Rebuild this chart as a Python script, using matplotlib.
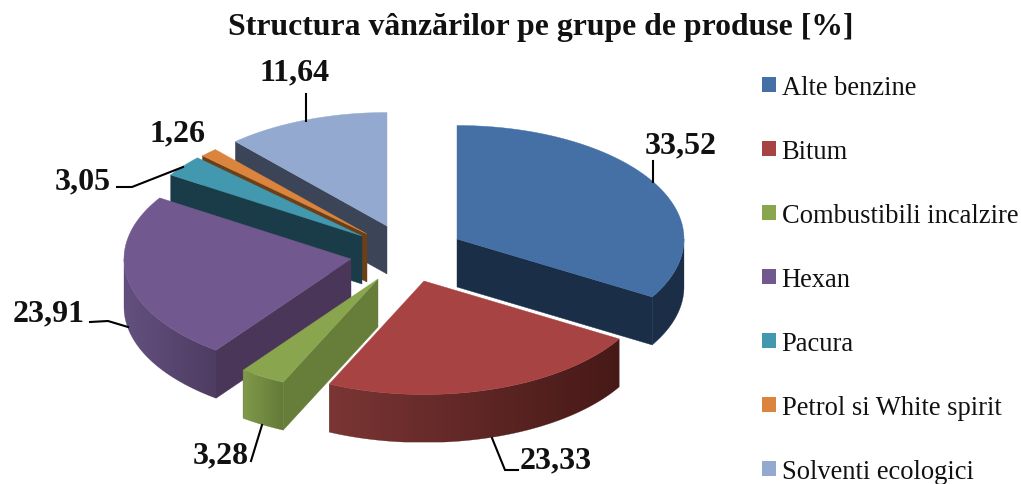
"""Structura vânzărilor: pie 3D explodat desenat cu poligoane."""

import numpy as np
import matplotlib
matplotlib.use("Agg")
import matplotlib.pyplot as plt
from matplotlib.colors import LinearSegmentedColormap
from matplotlib.patches import Patch, Polygon

categories = ["Alte benzine", "Bitum", "Combustibili incalzire", "Hexan",
              "Pacura", "Petrol si White spirit", "Solventi ecologici"]
values = [33.52, 23.33, 3.28, 23.91, 3.05, 1.26, 11.64]
title = "Structura vânzărilor pe grupe de produse [%]"

# stil: culori si pozitii in pixeli
top_colors = ["#4470A6", "#A74443", "#89A54E", "#71588F", "#4198AF", "#DB843D", "#93A9CF"]
side_colors = ["#1B2E47", "#4A1B19", "#677D3A", "#4A3659", "#1A3C48", "#6B3F17", "#3C4558"]
rim_left = ["#1B2E47", "#7A3534", "#80994A", "#64507F", "#1A3C48", "#6B3F17", "#3C4558"]
rim_right = ["#1B2E47", "#461917", "#637A38", "#4E3C62", "#1A3C48", "#6B3F17", "#3C4558"]
apex = [(457, 240), (424, 282), (378, 280), (351, 260), (362, 237), (367, 235), (387, 227)]
draw_order = [6, 5, 4, 3, 2, 1, 0]
RX, RY, DEPTH = 227, 113.5, 48

label_pos = [(681, 146), (556, 461), (221, 456), (49, 314), (83, 182), (177, 134), (295, 73)]
leaders = [
    [(653, 162), (653, 183)],
    [(518, 471), (505, 471), (492, 439)],
    [(251, 462), (262, 426)],
    [(90, 323), (108, 322), (128, 328)],
    [(117, 188), (132, 188), (183, 168)],
    None,
    [(306, 95), (306, 122)],
]

plt.rcParams["font.family"] = ["Liberation Serif", "DejaVu Serif"]


def rim(center, angles):
    """Puncte de pe elipsa pentru unghiuri in radiani (0 = sus, sens orar)."""
    return np.column_stack([center[0] + RX * np.sin(angles),
                            center[1] - RY * np.cos(angles)])


def draw_slice(ax, i, start, end):
    center = np.array(apex[i], dtype=float)
    down = np.array([0, DEPTH])
    arc = rim(center, np.linspace(start, end, 80))

    # pereti radiali vizibili
    if np.sin(start) < 0:
        p = rim(center, np.array([start]))[0]
        ax.add_patch(Polygon([center, p, p + down, center + down],
                             fc=side_colors[i], ec=side_colors[i], lw=0.3))
    if np.sin(end) > 0:
        p = rim(center, np.array([end]))[0]
        ax.add_patch(Polygon([center, p, p + down, center + down],
                             fc=side_colors[i], ec=side_colors[i], lw=0.3))

    # peretele exterior, cu gradient pe orizontala
    lo, hi = max(start, np.pi / 2), min(end, 3 * np.pi / 2)
    if hi > lo:
        band = rim(center, np.linspace(lo, hi, 80))
        outline = np.vstack([band, (band + down)[::-1]])
        clip = Polygon(outline, fc="none", ec="none", transform=ax.transData)
        ax.add_patch(clip)
        cmap = LinearSegmentedColormap.from_list("rim", [rim_left[i], rim_right[i]])
        extent = (outline[:, 0].min(), outline[:, 0].max(),
                  outline[:, 1].max(), outline[:, 1].min())
        im = ax.imshow(np.linspace(0, 1, 128).reshape(1, -1), cmap=cmap, extent=extent,
                       aspect="auto", zorder=1, interpolation="bilinear")
        im.set_clip_path(clip)
        ax.add_patch(Polygon(outline, fc="none", ec=rim_right[i], lw=0.2, zorder=1))

    # fata de sus
    ax.add_patch(Polygon(np.vstack([center, arc]), fc=top_colors[i], ec=top_colors[i],
                         lw=0.3, zorder=1))


fig = plt.figure(figsize=(10.21, 4.85), dpi=100)
ax = fig.add_axes([0, 0, 1, 1])

edges = np.concatenate([[0], np.cumsum(values)]) / np.sum(values) * 2 * np.pi
for i in draw_order:
    draw_slice(ax, i, edges[i], edges[i + 1])

for i, v in enumerate(values):
    ax.text(label_pos[i][0], label_pos[i][1], f"{v:.2f}".replace(".", ","),
            fontsize=23, fontweight="bold", ha="center", va="center", color="#111111")
    if leaders[i] is not None:
        xs, ys = zip(*leaders[i])
        ax.plot(xs, ys, color="black", lw=1.5, solid_joinstyle="miter")

ax.text(541, 27, title, fontsize=22.9, fontweight="bold", ha="center", va="center",
        color="#111111")

handles = [Patch(fc=c, ec="none", label=n) for c, n in zip(top_colors, categories)]
ax.legend(handles=handles, loc="center left", bbox_to_anchor=(762 / 1021, 1 - 280.5 / 485),
          frameon=False, fontsize=19.1, labelspacing=1.47, handlelength=0.52,
          handleheight=0.52, handletextpad=0.22, borderpad=0, borderaxespad=0,
          labelcolor="#111111")

ax.set_xlim(0, 1021)
ax.set_ylim(485, 0)
ax.axis("off")
fig.savefig("out.png", dpi=100)
